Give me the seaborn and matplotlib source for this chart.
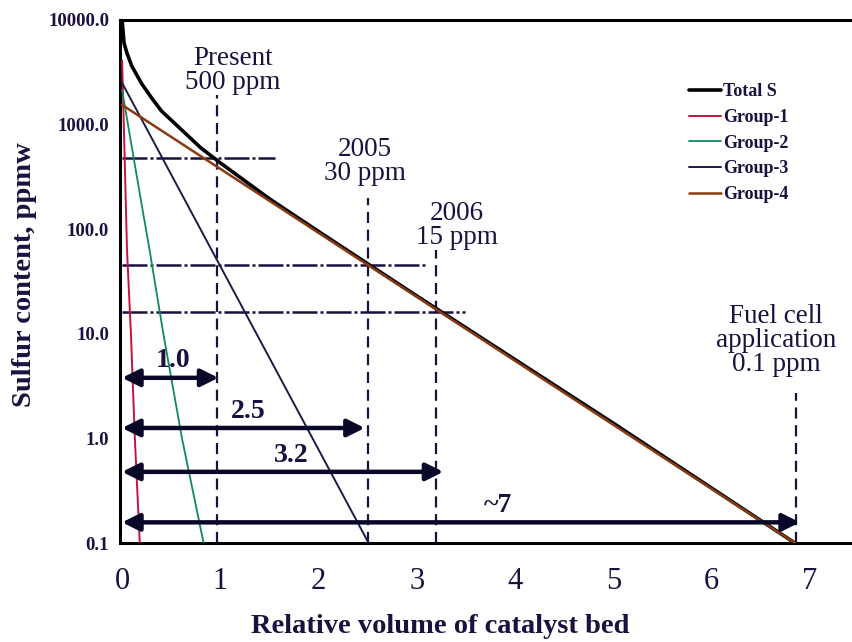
import numpy as np
import pandas as pd
import matplotlib
matplotlib.use("Agg")
import matplotlib.pyplot as plt
from matplotlib.ticker import FixedLocator, MultipleLocator, LogLocator, NullFormatter
import seaborn as sns

# ---- data ----
total_x = [0, 0.02, 0.05, 0.1, 0.2, 0.3, 0.4, 0.6, 0.8, 1.0, 1.5, 2.0, 3.0, 5.0, 6.85]
total_y = [10000, 6000, 4800, 3600, 2450, 1800, 1350, 900, 600, 430, 195, 95, 23, 1.4, 0.1]
g1_x = [0, 0.02, 0.05, 0.09, 0.13, 0.18]
g1_y = [4100, 800, 63, 10, 1, 0.1]
g2_x = [0, 0.1, 0.2, 0.28, 0.42, 0.61, 0.83]
g2_y = [2140, 600, 170, 63, 10, 1, 0.1]
g3_x = [0, 2.51]
g3_y = [2500, 0.1]
g4_x = [0, 6.85]
g4_y = [1540, 0.1]

series_names = ["Total S", "Group-1", "Group-2", "Group-3", "Group-4"]

# reference limits (horizontal dotted lines): level, x end
limit_levels = [480, 45, 16]
limit_xend = [1.56, 3.1, 3.49]
# vertical dashed lines: x, top value
vline_x = [0.97, 2.5, 3.2, 6.86]
vline_top = [1900, 200, 63, 2.7]
# labels above vertical lines (x, bottom value)
milestone_text = ["Present\n500 ppm", "2005\n30 ppm", "2006\n15 ppm", "Fuel cell\napplication\n0.1 ppm"]
milestone_x = [1.13, 2.47, 3.41, 6.66]
milestone_bottom = [1900, 260, 63, 3.9]
# double arrows: length, y level, label, label position
arrow_len = [0.98, 2.47, 3.27, 6.9]
arrow_y = [3.8, 1.26, 0.48, 0.158]
arrow_label = ["1.0", "2.5", "3.2", "~7"]
arrow_label_x = [0.52, 1.28, 1.72, 3.83]

ytick_vals = [0.1, 1, 10, 100, 1000, 10000]
ytick_labels = ["0.1", "1.0", "10.0", "100.0", "1000.0", "10000.0"]
xtick_vals = [0, 1, 2, 3, 4, 5, 6, 7]

frames = []
for name, xs, ys in zip(series_names,
                        [total_x, g1_x, g2_x, g3_x, g4_x],
                        [total_y, g1_y, g2_y, g3_y, g4_y]):
    frames.append(pd.DataFrame({"x": xs, "y": ys, "series": name}))
df = pd.concat(frames, ignore_index=True)

sns.set_style("white")
plt.rcParams['font.family'] = ['Liberation Serif', 'DejaVu Serif']

navy = "#1b1040"
colors = {"Total S": "#000000", "Group-1": "#c0143c", "Group-2": "#0e8a5c",
          "Group-3": "#1c1a48", "Group-4": "#8a3a10"}
widths = {"Total S": 2.6, "Group-1": 1.4, "Group-2": 1.3, "Group-3": 1.4, "Group-4": 1.8}

fig = plt.figure(figsize=(8.52, 6.42), dpi=100)
ax = fig.add_axes([0.141, 0.154, 0.859, 0.815])

# reference lines first (below curves)
for lv, xe in zip(limit_levels, limit_xend):
    ax.plot([0, xe], [lv, lv], color=navy, lw=1.8, ls=(0, (10, 1.2, 1.2, 1.2)), zorder=2)
for vx, vt in zip(vline_x, vline_top):
    ax.plot([vx, vx], [0.1, vt], color=navy, lw=1.6, ls=(0, (5, 3)), zorder=2,
            clip_on=False)

for name in series_names:
    sub = df[df["series"] == name]
    sns.lineplot(data=sub, x="x", y="y", ax=ax, color=colors[name], lw=widths[name],
                 estimator=None, sort=False, label=name, zorder=3 if name != "Group-4" else 4)

ax.set_yscale("log")
ax.set_xlim(-0.02, 7.43)
ax.set_ylim(0.1, 10000)

for t, px, pb in zip(milestone_text, milestone_x, milestone_bottom):
    ax.text(px, pb, t, ha="center", va="bottom", fontsize=19.5,
            color=navy, linespacing=0.95)

for L, yv, lab, lx in zip(arrow_len, arrow_y, arrow_label, arrow_label_x):
    ax.annotate("", xy=(L, yv), xytext=(0, yv),
                arrowprops=dict(arrowstyle="<|-|>", color="#0a0828", lw=3.2,
                                mutation_scale=26, shrinkA=0, shrinkB=0), zorder=5)
    ax.text(lx, yv * 1.1, lab, ha="center", va="bottom", fontsize=20,
            fontweight="bold", color="#1a1040")

ax.yaxis.set_major_locator(FixedLocator(ytick_vals))
ax.set_yticklabels(ytick_labels, fontsize=13.5, fontweight="bold", color=navy)
ax.yaxis.set_minor_locator(LogLocator(base=10, subs=np.arange(2, 10)))
ax.yaxis.set_minor_formatter(NullFormatter())
ax.xaxis.set_major_locator(FixedLocator(xtick_vals))
ax.set_xticklabels([str(v) for v in xtick_vals], fontsize=22, color=navy)
ax.xaxis.set_minor_locator(MultipleLocator(0.25))
ax.tick_params(axis="both", which="major", direction="out", length=5, width=1.5, color="black")
ax.tick_params(axis="both", which="minor", direction="out", length=3, width=1.2, color="black")
ax.tick_params(axis="x", pad=12)
ax.tick_params(axis="y", pad=3)

for s in ["left", "bottom", "top"]:
    ax.spines[s].set_color("black")
    ax.spines[s].set_linewidth(2.2)
ax.spines["right"].set_visible(False)

ax.set_xlabel("Relative volume of catalyst bed", fontsize=20.5, fontweight="bold",
              color=navy)
ax.xaxis.set_label_coords((440 - 120) / 732, -(626 - 543) / 523)
ax.xaxis.label.set_va("center")
ax.set_ylabel("Sulfur content, ppmw", fontsize=20.5, fontweight="bold", color=navy)
ax.yaxis.set_label_coords(-(120 - 24) / 732, 1 - (275 - 20) / 523)
ax.yaxis.label.set_va("center")

leg = ax.legend(loc="upper left", bbox_to_anchor=(0.755, 0.91), frameon=False,
                prop={"size": 13, "weight": "bold"}, handlelength=1.8,
                handletextpad=0.1, labelspacing=0.48)
for txt in leg.get_texts():
    txt.set_color(navy)

fig.savefig("out.png", dpi=100)
